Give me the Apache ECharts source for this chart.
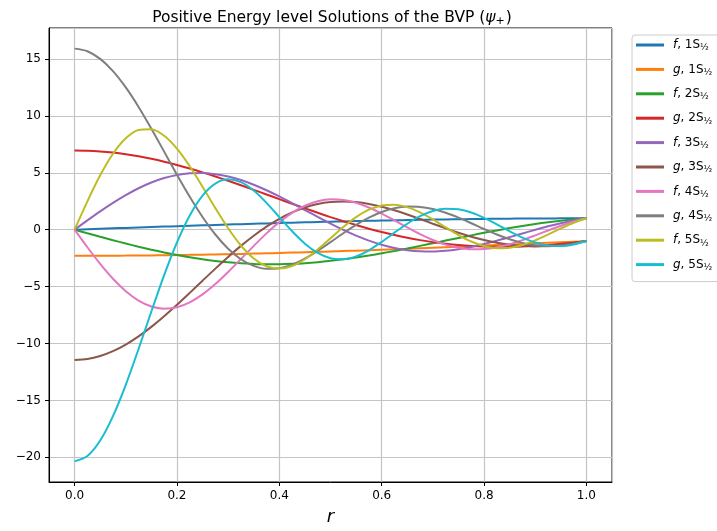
<!DOCTYPE html>
<html>
<head>
<meta charset="utf-8">
<script src="https://cdn.jsdelivr.net/npm/echarts@6/dist/echarts.min.js"></script>
<style>
  html, body { margin: 0; padding: 0; background: #fff; }
  #chart { width: 717px; height: 531px; }
</style>
</head>
<body>
<div id="chart"></div>
<script>
// radius values (x axis), step 0.025
var r = [0, 0.025, 0.05, 0.075, 0.1, 0.125, 0.15, 0.175, 0.2, 0.225, 0.25,
         0.275, 0.3, 0.325, 0.35, 0.375, 0.4, 0.425, 0.45, 0.475, 0.5,
         0.525, 0.55, 0.575, 0.6, 0.625, 0.65, 0.675, 0.7, 0.725, 0.75,
         0.775, 0.8, 0.825, 0.85, 0.875, 0.9, 0.925, 0.95, 0.975, 1.0];

var f1S = [0, 0.039, 0.078, 0.117, 0.156, 0.194, 0.232, 0.270, 0.307, 0.344, 0.380, 0.416, 0.451, 0.486, 0.519, 0.552, 0.584, 0.615, 0.645, 0.674, 0.702,
           0.729, 0.755, 0.780, 0.804, 0.826, 0.847, 0.867, 0.885, 0.903, 0.919, 0.933, 0.946, 0.958, 0.968, 0.977, 0.984, 0.990, 0.995, 0.998, 1.0];
var g1S = [-2.294, -2.293, -2.290, -2.285, -2.278, -2.269, -2.258, -2.245, -2.230, -2.214, -2.195, -2.175, -2.153, -2.129, -2.103, -2.076, -2.047, -2.016, -1.984, -1.950, -1.915,
           -1.879, -1.841, -1.801, -1.761, -1.719, -1.677, -1.633, -1.588, -1.542, -1.496, -1.449, -1.401, -1.352, -1.303, -1.253, -1.203, -1.153, -1.102, -1.051, -1.0];
var f2S = [0, -0.312, -0.621, -0.924, -1.216, -1.495, -1.758, -2.002, -2.224, -2.423, -2.596, -2.742, -2.859, -2.947, -3.005, -3.033, -3.031, -3.000, -2.940, -2.853, -2.740,
           -2.604, -2.447, -2.270, -2.076, -1.869, -1.651, -1.424, -1.193, -0.960, -0.728, -0.499, -0.277, -0.064, 0.138, 0.326, 0.498, 0.653, 0.788, 0.905, 1.0];
var g2S = [6.960, 6.939, 6.876, 6.772, 6.627, 6.444, 6.225, 5.971, 5.686, 5.372, 5.033, 4.673, 4.295, 3.903, 3.501, 3.093, 2.684, 2.277, 1.876, 1.485, 1.107,
           0.746, 0.406, 0.087, -0.206, -0.472, -0.710, -0.917, -1.094, -1.239, -1.353, -1.436, -1.488, -1.511, -1.506, -1.474, -1.418, -1.341, -1.243, -1.129, -1.0];
var f3S = [0, 0.814, 1.607, 2.355, 3.038, 3.640, 4.143, 4.536, 4.811, 4.961, 4.987, 4.880, 4.679, 4.362, 3.952, 3.465, 2.920, 2.333, 1.727, 1.119, 0.530,
           -0.025, -0.527, -0.965, -1.328, -1.607, -1.799, -1.903, -1.920, -1.856, -1.718, -1.516, -1.263, -0.972, -0.656, -0.330, -0.008, 0.297, 0.573, 0.812, 1.0];
var g3S = [-11.446, -11.359, -11.098, -10.673, -10.093, -9.375, -8.539, -7.606, -6.602, -5.552, -4.483, -3.422, -2.394, -1.423, -0.530, 0.267, 0.952, 1.516, 1.952, 2.257, 2.433,
           2.486, 2.426, 2.265, 2.018, 1.701, 1.334, 0.936, 0.525, 0.118, -0.266, -0.614, -0.913, -1.153, -1.328, -1.433, -1.469, -1.438, -1.344, -1.195, -1.0];
var f4S = [0, -1.543, -3.006, -4.316, -5.408, -6.229, -6.745, -6.938, -6.809, -6.379, -5.686, -4.779, -3.721, -2.580, -1.425, -0.324, 0.662, 1.484, 2.104, 2.500, 2.667,
           2.613, 2.363, 1.949, 1.418, 0.818, 0.199, -0.390, -0.906, -1.314, -1.588, -1.717, -1.700, -1.545, -1.274, -0.915, -0.501, -0.069, 0.346, 0.712, 1.0];
var g4S = [15.908, 15.681, 15.010, 13.932, 12.499, 10.785, 8.874, 6.858, 4.834, 2.892, 1.116, -0.424, -1.674, -2.600, -3.186, -3.441, -3.388, -3.069, -2.537, -1.856, -1.092,
           -0.312, 0.422, 1.058, 1.555, 1.884, 2.033, 2.003, 1.811, 1.482, 1.053, 0.564, 0.059, -0.420, -0.836, -1.159, -1.368, -1.451, -1.410, -1.253, -1.0];
var f5S = [0, 2.491, 4.779, 6.674, 8.034, 8.763, 8.827, 8.251, 7.122, 5.574, 3.771, 1.895, 0.123, -1.390, -2.525, -3.209, -3.422, -3.193, -2.598, -1.736, -0.756,
           0.232, 1.101, 1.754, 2.129, 2.201, 1.984, 1.527, 0.906, 0.205, -0.468, -1.040, -1.441, -1.629, -1.592, -1.348, -0.940, -0.431, 0.109, 0.606, 1.0];
var g5S = [-20.360, -19.893, -18.531, -16.386, -13.631, -10.485, -7.192, -3.995, -1.119, 1.254, 2.998, 4.052, 4.422, 4.175, 3.434, 2.352, 1.104, -0.140, -1.227, -2.041, -2.508,
           -2.603, -2.350, -1.811, -1.079, -0.264, 0.523, 1.183, 1.639, 1.848, 1.798, 1.513, 1.045, 0.467, -0.140, -0.693, -1.123, -1.380, -1.440, -1.304, -1.0];

var names = ['f, 1S½', 'g, 1S½', 'f, 2S½', 'g, 2S½', 'f, 3S½',
             'g, 3S½', 'f, 4S½', 'g, 4S½', 'f, 5S½', 'g, 5S½'];
var values = [f1S, g1S, f2S, g2S, f3S, g3S, f4S, g4S, f5S, g5S];
var colors = ['#1f77b4', '#ff7f0e', '#2ca02c', '#d62728', '#9467bd',
              '#8c564b', '#e377c2', '#7f7f7f', '#bcbd22', '#17becf'];

var FONT = 'DejaVu Sans';

var series = names.map(function (n, i) {
    return {
        name: n,
        type: 'line',
        smooth: 0.3,
        showSymbol: false,
        symbol: 'none',
        lineStyle: { width: 2, color: colors[i] },
        itemStyle: { color: colors[i] },
        data: r.map(function (x, j) { return [x, values[i][j]]; })
    };
});

var option = {
    animation: false,
    color: colors,
    title: {
        text: 'Positive Energy level Solutions of the BVP ({it|ψ}{sub|+})',
        left: 327,
        textAlign: 'center',
        top: 4,
        textStyle: {
            fontFamily: FONT,
            fontSize: 15.5,
            fontWeight: 'normal',
            color: '#000',
            rich: {
                it: { fontFamily: FONT, fontSize: 15.5, fontStyle: 'italic', color: '#000' },
                sub: { fontFamily: FONT, fontSize: 11, color: '#000', padding: [7, 1, 0, 0] }
            }
        }
    },
    grid: {
        left: 49, right: 105, top: 28, bottom: 48,
        show: true,
        borderColor: '#000',
        borderWidth: 1
    },
    legend: {
        orient: 'vertical',
        left: 632,
        top: 35,
        padding: [2.5, 12, 9.5, 4],
        itemGap: 9.4,
        itemWidth: 28,
        itemHeight: 3,
        icon: 'rect',
        borderColor: '#cccccc',
        borderWidth: 1,
        borderRadius: 3,
        backgroundColor: 'rgba(255,255,255,0.8)',
        data: names,
        formatter: function (n) {
            return '{it|' + n.charAt(0) + '}{t|' + n.slice(1, -1) + '}{sub|½}';
        },
        textStyle: {
            fontFamily: FONT,
            fontSize: 12,
            color: '#000',
            padding: [0, 0, 0, 4],
            rich: {
                it: { fontFamily: FONT, fontSize: 12, fontStyle: 'italic', lineHeight: 19, color: '#000' },
                t: { fontFamily: FONT, fontSize: 12, lineHeight: 19, color: '#000' },
                sub: { fontFamily: FONT, fontSize: 9, lineHeight: 19, color: '#000', padding: [6, 0, 0, 0] }
            }
        }
    },
    xAxis: {
        type: 'value',
        min: -0.05,
        max: 1.05,
        splitNumber: 5,
        name: 'r',
        nameLocation: 'middle',
        nameGap: 26,
        nameTextStyle: { fontFamily: FONT, fontSize: 18, fontStyle: 'italic', color: '#000' },
        axisLine: { show: true, onZero: false, lineStyle: { color: '#000', width: 1 } },
        axisTick: { show: true, inside: false, length: 4, lineStyle: { color: '#000' } },
        axisLabel: {
            showMinLabel: false,
            showMaxLabel: false,
            margin: 8,
            fontFamily: FONT,
            fontSize: 12,
            color: '#000',
            formatter: function (v) { return v.toFixed(1); }
        },
        splitLine: { show: true, lineStyle: { color: '#c4c4c4', width: 1.2 } }
    },
    yAxis: {
        type: 'value',
        min: -22.17,
        max: 17.72,
        splitNumber: 8,
        axisLine: { show: true, onZero: false, lineStyle: { color: '#000', width: 1 } },
        axisTick: { show: true, inside: false, length: 4, lineStyle: { color: '#000' } },
        axisLabel: {
            showMinLabel: false,
            showMaxLabel: false,
            margin: 8,
            fontFamily: FONT,
            fontSize: 12,
            color: '#000',
            formatter: function (v) { return String(v).replace('-', '\u2212'); }
        },
        splitLine: { show: true, lineStyle: { color: '#c4c4c4', width: 1.2 } }
    },
    series: series
};

var myChart = echarts.init(document.getElementById('chart'));
myChart.setOption(option);
</script>
</body>
</html>
